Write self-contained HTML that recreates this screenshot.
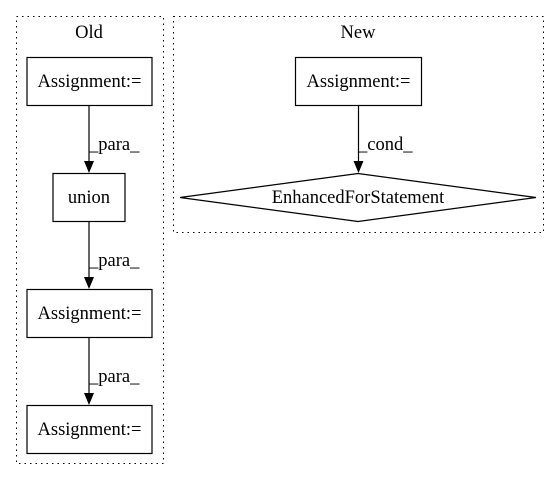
<!DOCTYPE html>
<html><head><style>body{margin:0;background:#fff}</style></head><body>
<svg width="560" height="480" viewBox="0 0 560 480" xmlns="http://www.w3.org/2000/svg" font-family="Liberation Serif, serif" font-size="18.5">
<rect x="16.5" y="16.5" width="147" height="447" fill="none" stroke="#000" stroke-dasharray="1.5,4"/>
<text x="89" y="38" text-anchor="middle">Old</text>
<rect x="173.5" y="16.5" width="370" height="216" fill="none" stroke="#000" stroke-dasharray="1.5,4"/>
<text x="358" y="38" text-anchor="middle">New</text>
<g fill="#fff" stroke="#000" stroke-width="1.2">
<rect x="27" y="57.5" width="125" height="48"/>
<rect x="53" y="173.5" width="72" height="48"/>
<rect x="27" y="289.5" width="125" height="48"/>
<rect x="27" y="405.5" width="125" height="48"/>
<rect x="295.5" y="57.5" width="126" height="48"/>
<polygon points="358,173.5 536,197.5 358,221.5 180,197.5"/>
</g>
<g stroke="#000" stroke-width="1.2">
<line x1="89" y1="106" x2="89" y2="163"/>
<line x1="89" y1="222" x2="89" y2="279"/>
<line x1="89" y1="338" x2="89" y2="395"/>
<line x1="358.5" y1="106" x2="358.5" y2="163"/>
</g>
<g fill="#000">
<polygon points="84,161 94,161 89,173"/>
<polygon points="84,277 94,277 89,289"/>
<polygon points="84,393 94,393 89,405"/>
<polygon points="353.5,161 363.5,161 358.5,173"/>
</g>
<g text-anchor="middle">
<text x="89.5" y="87">Assignment:=</text>
<text x="89" y="203">union</text>
<text x="89.5" y="319">Assignment:=</text>
<text x="89.5" y="435">Assignment:=</text>
<text x="358.5" y="87">Assignment:=</text>
<text x="358" y="203">EnhancedForStatement</text>
</g>
<text x="89" y="150">_para_</text>
<text x="89" y="266">_para_</text>
<text x="89" y="382">_para_</text>
<text x="358" y="150">_cond_</text>
</svg>
</body></html>
